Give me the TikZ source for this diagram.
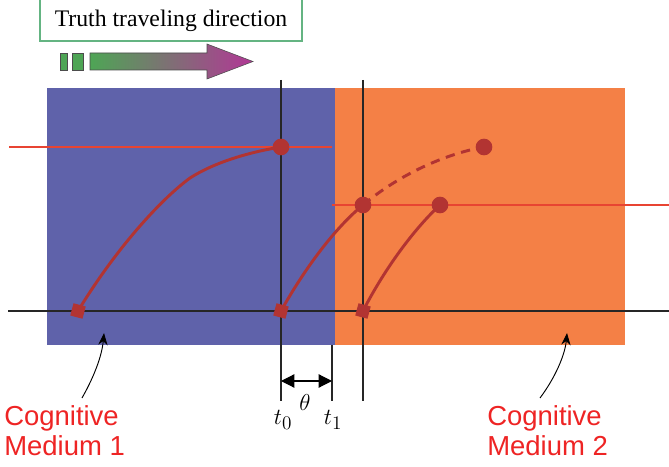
\documentclass[tikz,border=0pt]{standalone}
\usepackage{fontspec}
\setmainfont{Liberation Serif}
\newfontfamily\mediumfont{Liberation Sans}
\usetikzlibrary{arrows.meta,positioning,calc}
\definecolor{mediumA}{RGB}{95,98,170}
\definecolor{mediumB}{RGB}{244,128,70}
\definecolor{pathred}{RGB}{178,52,50}
\definecolor{levelred}{RGB}{232,68,50}
\definecolor{labelred}{RGB}{238,36,36}
\definecolor{framegreen}{RGB}{100,180,130}
\definecolor{truthgreen}{RGB}{78,165,85}
\definecolor{truthmid}{RGB}{150,115,165}
\definecolor{truthpink}{RGB}{178,55,150}
\tikzset{
  hitdot/.style={circle, fill=pathred, inner sep=0pt, minimum size=12.5pt},
  hitsq/.style={rectangle, fill=pathred, inner sep=0pt, minimum size=9.5pt, rotate=-15},
  trace/.style={pathred, line width=2.2pt},
  level/.style={levelred, line width=1.5pt},
  guide/.style={black!85, line width=0.8pt},
  medlabel/.style={labelred, font=\mediumfont\fontsize{20.6}{22.5}\selectfont, align=left, anchor=west, inner sep=0pt},
  pointer/.style={-{Stealth[length=9pt,width=7pt]}, line width=0.7pt},
  timelabel/.style={font=\fontsize{19}{22}\selectfont},
}

\begin{document}
\begin{tikzpicture}[x=0.75pt,y=-0.75pt]
\useasboundingbox (0,0) rectangle (669,467);
% the two media
\fill[mediumA] (47,88) rectangle (335,345);
\fill[mediumB] (335,88) rectangle (625,345);
% truth direction banner
\draw[framegreen, line width=0.8pt] (40,-5) rectangle (302,41);
\node (truth) at (171,21) {\fontsize{17.8}{20}\selectfont Truth traveling direction};
\draw[black!70, line width=0.4pt, fill=truthgreen] (60,53) rectangle (67,70);
\draw[black!70, line width=0.4pt, fill=truthgreen] (72,53) rectangle (83,70);
\shade[left color=truthgreen, middle color=truthmid, right color=truthpink, draw=black!70, line width=0.4pt]
  (90,53) -- (207,53) -- (207,44) -- (253,61.5) -- (207,79) -- (207,70) -- (90,70) -- cycle;
% axes and time lines
\coordinate (axL) at (8,311);
\coordinate (axR) at (669,311);
\draw[guide] (axL) -- (axR);
\coordinate (t0top) at (281,80);
\coordinate (t0bot) at (281,401);
\draw[guide] (t0top) -- (t0bot);
\coordinate (t2top) at (363,80);
\coordinate (t2bot) at (363,401);
\draw[guide] (t2top) -- (t2bot);
\coordinate (t1top) at (332,345);
\coordinate (t1bot) at (332,401);
\draw[guide] (t1top) -- (t1bot);
% levels reached
\coordinate (lvA) at (9,147);
\coordinate (lvAend) at (332,147);
\draw[level] (lvA) -- (lvAend);
\coordinate (lvB) at (332,205);
\coordinate (lvBend) at (669,205);
\draw[level] (lvB) -- (lvBend);
% markers
\node[hitsq] (sq1) at (78,311) {};
\node[hitsq] (sq2) at (281,311) {};
\node[hitsq] (sq3) at (363,311) {};
\node[hitdot] (dot1) at (281,147) {};
\node[hitdot] (dot2) at (363,205) {};
\node[hitdot] (dot3) at (440,205) {};
\node[hitdot] (dot4) at (484,147) {};
% traces
\draw[trace] (sq1.center) .. controls (115,250) and (160,200) .. (190,178)
  .. controls (215,162) and (250,152) .. (dot1.center);
\draw[trace] (sq2.center) .. controls (305,268) and (335,228) .. (dot2.center);
\draw[trace, dash pattern=on 7pt off 5pt] (dot2.center) .. controls (395,178) and (440,155) .. (dot4.center);
\draw[trace] (sq3.center) .. controls (385,268) and (415,228) .. (dot3.center);
% delay between media
\draw[{Triangle[length=10pt,width=10pt]}-{Triangle[length=10pt,width=10pt]}, line width=0.9pt] (t0bot |- 0,381) -- (t1bot |- 0,381);
\node[timelabel] (theta) at (305,402) {$\theta$};
\node[timelabel] (tzero) at (283,420) {$t_0$};
\node[timelabel] (tone) at (333,420) {$t_1$};
% medium labels
\node[medlabel] (med1) at (4,431) {Cognitive\\Medium 1};
\node[medlabel] (med2) at (487,431) {Cognitive\\Medium 2};
\coordinate (tip1) at (104,333);
\coordinate (tip2) at (567,333);
\draw[pointer] (82,398) .. controls (95,375) and (102,355) .. (tip1);
\draw[pointer] (540,398) .. controls (555,378) and (565,355) .. (tip2);
\end{tikzpicture}
\end{document}
